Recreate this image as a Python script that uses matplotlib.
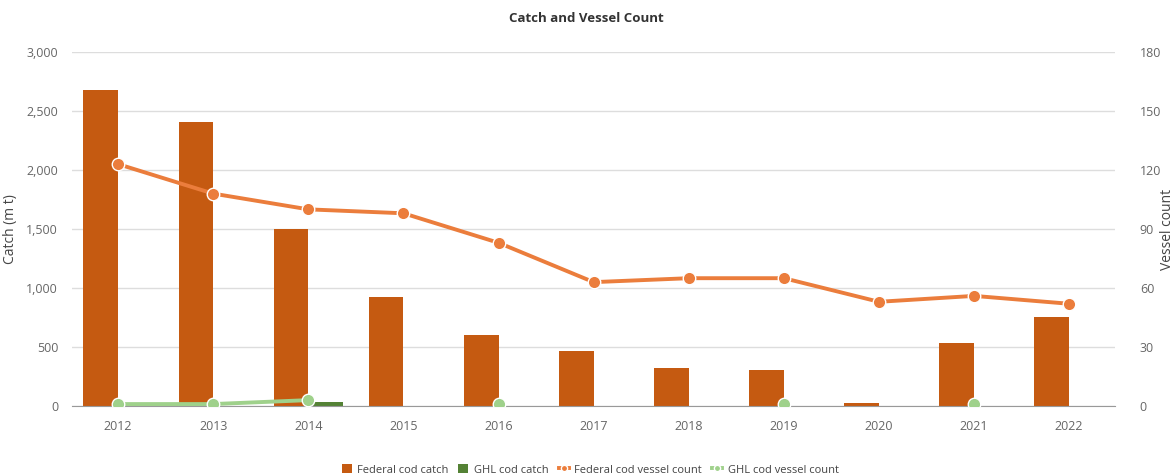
import numpy as np
import matplotlib.pyplot as plt
from matplotlib.ticker import FuncFormatter

plt.rcParams['font.family'] = ['Open Sans', 'DejaVu Sans']

years = ["2012", "2013", "2014", "2015", "2016", "2017", "2018", "2019", "2020", "2021", "2022"]
federal_catch = [2675, 2410, 1500, 920, 600, 470, 325, 305, 23, 533, 755]
ghl_catch = [0, 0, 30, 0, 0, 0, 0, 0, 0, 0, 0]
federal_vessels = [123, 108, 100, 98, 83, 63, 65, 65, 53, 56, 52]
ghl_vessels = [1, 1, 3, np.nan, 1, np.nan, np.nan, 1, np.nan, 1, np.nan]

c_fed_bar = "#c55a11"
c_ghl_bar = "#548235"
c_fed_line = "#eb7d3c"
c_ghl_line = "#9fd18b"
grey = "#666666"

fig = plt.figure(figsize=(11.73, 4.76), dpi=100)
ax = fig.add_axes([0.0614, 0.147, 0.889, 0.7437])
ax2 = ax.twinx()

x = np.arange(len(years))
w = 0.365
ax.bar(x - w / 2, federal_catch, w, color=c_fed_bar, label="Federal cod catch", zorder=2)
ax.bar(x + w / 2, ghl_catch, w, color=c_ghl_bar, label="GHL cod catch", zorder=2)

ax2.plot(x, federal_vessels, color=c_fed_line, lw=2.8, marker="o", ms=9,
         mfc=c_fed_line, mec="white", mew=1, label="Federal cod vessel count", zorder=4)
ax2.plot(x, ghl_vessels, color=c_ghl_line, lw=2.8, marker="o", ms=9,
         mfc=c_ghl_line, mec="white", mew=1, label="GHL cod vessel count", zorder=3)

ax.set_xlim(-0.485, 10.48)
ax.set_ylim(0, 3000)
ax2.set_ylim(0, 180)
ax.set_yticks(np.arange(0, 3001, 500))
ax2.set_yticks(np.arange(0, 181, 30))
ax.yaxis.set_major_formatter(FuncFormatter(lambda v, p: f"{int(v):,}"))
ax.set_xticks(x)
ax.set_xticklabels(years)

ax.grid(axis="y", color="#dddddd", lw=1, zorder=0)
ax.set_axisbelow(True)
for a in (ax, ax2):
    for s in ("top", "left", "right"):
        a.spines[s].set_visible(False)
    a.spines["bottom"].set_color("#999999")
    a.tick_params(length=0, colors=grey, labelsize=9)
ax2.spines["bottom"].set_visible(False)
ax.tick_params(axis="y", pad=10)
ax.tick_params(axis="x", pad=10)
ax2.tick_params(axis="y", pad=18)

ax.set_ylabel("Catch (m t)", fontsize=10, color="#444444")
ax.yaxis.set_label_coords(-0.052, 0.5)
ax2.set_ylabel("Vessel count", fontsize=10, color="#444444", rotation=90)
ax2.yaxis.set_label_coords(1.043, 0.5)
fig.suptitle("Catch and Vessel Count", fontsize=9.5, fontweight="bold", color="#333333", y=0.975)

h1, l1 = ax.get_legend_handles_labels()
h2, l2 = ax2.get_legend_handles_labels()
leg = fig.legend(h1 + h2, l1 + l2, loc="lower center", bbox_to_anchor=(0.503, -0.02), ncol=4,
                 frameon=False, fontsize=8, handlelength=0.9, handleheight=0.9, numpoints=1,
                 handletextpad=0.5, columnspacing=0.9, markerscale=0.5)
for t in leg.get_texts():
    t.set_color("#444444")

fig.savefig("out.png", dpi=100)
